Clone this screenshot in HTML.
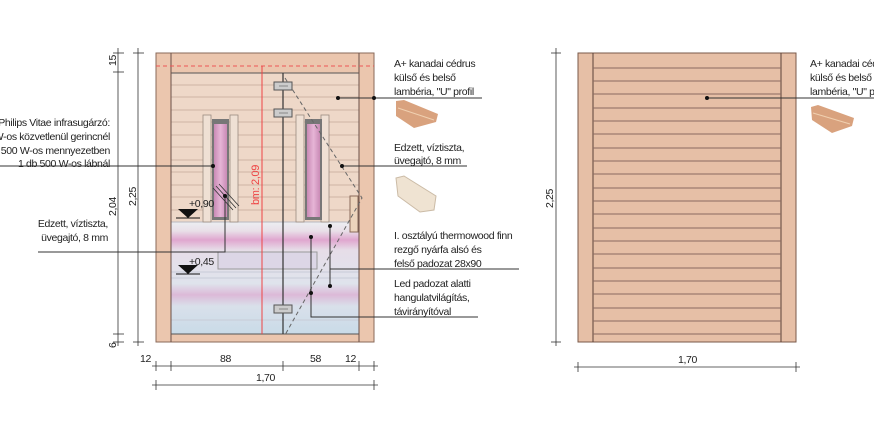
<!DOCTYPE html>
<html><head><meta charset="utf-8"><style>
html,body{margin:0;padding:0;background:#fff;}
svg{display:block;}
text{font-family:"Liberation Sans Narrow","Liberation Sans",sans-serif;font-size:10.5px;letter-spacing:-0.35px;fill:#222;}
</style></head><body>
<svg width="874" height="426" viewBox="0 0 874 426" xmlns="http://www.w3.org/2000/svg">
<defs>
<linearGradient id="heat" x1="0" x2="1"><stop offset="0" stop-color="#c98ab5"/><stop offset="0.5" stop-color="#e6b5d6"/><stop offset="1" stop-color="#c98ab5"/></linearGradient>
<linearGradient id="low" x1="0" y1="0" x2="0" y2="1">
<stop offset="0" stop-color="#eceef2"/><stop offset="0.08" stop-color="#e9dfe8"/><stop offset="0.16" stop-color="#e0a6cf"/><stop offset="0.25" stop-color="#e6dde8"/><stop offset="0.55" stop-color="#dfe3ec"/><stop offset="0.65" stop-color="#dcb9d8"/><stop offset="0.75" stop-color="#d9e0ea"/><stop offset="1" stop-color="#c9dbe8"/></linearGradient>
</defs>
<rect x="156" y="53" width="218" height="289" fill="#ebc6ae" stroke="#8a6a5a" stroke-width="1"/>
<rect x="171" y="73" width="188" height="149" fill="#eed8c8"/>
<g stroke="#cdb4a4" stroke-width="1">
<line x1="171" y1="85" x2="359" y2="85"/><line x1="171" y1="97" x2="359" y2="97"/><line x1="171" y1="110" x2="359" y2="110"/><line x1="171" y1="122" x2="359" y2="122"/><line x1="171" y1="135" x2="359" y2="135"/><line x1="171" y1="147" x2="359" y2="147"/><line x1="171" y1="160" x2="359" y2="160"/><line x1="171" y1="172" x2="359" y2="172"/><line x1="171" y1="185" x2="359" y2="185"/><line x1="171" y1="197" x2="359" y2="197"/><line x1="171" y1="210" x2="359" y2="210"/>
</g>
<rect x="171" y="222" width="188" height="112" fill="url(#low)"/>
<g stroke="#c8ccd8" stroke-width="1"><line x1="171" y1="272" x2="359" y2="272"/><line x1="171" y1="278" x2="359" y2="278"/><line x1="171" y1="320" x2="359" y2="320"/></g>
<line x1="171" y1="222" x2="359" y2="222" stroke="#b8b8c0"/>
<rect x="171" y="73" width="188" height="261" fill="none" stroke="#555" stroke-width="1"/>
<line x1="171" y1="53" x2="171" y2="342" stroke="#6a5048"/><line x1="359" y1="53" x2="359" y2="342" stroke="#6a5048"/>
<line x1="156" y1="66" x2="374" y2="66" stroke="#e55" stroke-dasharray="4,3"/>
<g fill="#efe0d4" stroke="#9a8a80" stroke-width="0.8">
<rect x="203" y="115" width="8" height="107"/><rect x="230" y="115" width="8" height="107"/>
<rect x="296" y="115" width="8" height="107"/><rect x="321" y="115" width="8" height="107"/>
</g>
<rect x="212" y="119" width="17" height="101" fill="#777"/><rect x="214" y="124" width="13" height="93" fill="url(#heat)"/>
<rect x="305" y="119" width="17" height="101" fill="#777"/><rect x="307" y="124" width="13" height="93" fill="url(#heat)"/>
<rect x="218" y="252" width="99" height="17" fill="#dcd6e6" stroke="#999" stroke-width="1"/>
<rect x="350" y="196" width="8" height="36" fill="#ecd4bc" stroke="#8a6a5a"/>
<line x1="262" y1="66" x2="262" y2="334" stroke="#e44" stroke-width="1"/>
<line x1="283" y1="73" x2="283" y2="334" stroke="#333" stroke-width="1.2"/>
<polyline points="285,78 362,198 285,335" fill="none" stroke="#666" stroke-dasharray="4,3"/>
<g fill="#ccc" stroke="#555"><rect x="274" y="82" width="18" height="8"/><rect x="274" y="109" width="18" height="8"/><rect x="274" y="305" width="18" height="8"/></g>
<g stroke="#888"><line x1="279" y1="86" x2="288" y2="86"/><line x1="279" y1="113" x2="288" y2="113"/><line x1="279" y1="309" x2="288" y2="309"/></g>
<text transform="translate(259,205) rotate(-90)" style="fill:#e44;font-size:11px">bm: 2,09</text>
<g stroke="#333" stroke-width="0.8"><line x1="213" y1="188" x2="233" y2="210"/><line x1="216" y1="186" x2="236" y2="208"/><line x1="219" y1="184" x2="239" y2="206"/></g>
<polygon points="178,209 198,209 188,218" fill="#111"/><line x1="176" y1="218" x2="200" y2="218" stroke="#111"/>
<polygon points="178,265 198,265 188,274" fill="#111"/><line x1="176" y1="274" x2="200" y2="274" stroke="#111"/>
<text x="189" y="207">+0,90</text><text x="189" y="265">+0,45</text>
<g stroke="#333" stroke-width="1" fill="none">
<line x1="0" y1="166" x2="213" y2="166"/>
<polyline points="38,252 225,252 225,196"/>
<line x1="338" y1="98" x2="482" y2="98"/>
<line x1="342" y1="166" x2="467" y2="166"/>
<line x1="330" y1="226" x2="330" y2="286"/><line x1="330" y1="269" x2="519" y2="269"/>
<polyline points="311,237 311,317 478,317"/>
</g>
<g fill="#111"><circle cx="213" cy="166" r="2"/><circle cx="225" cy="196" r="2"/><circle cx="338" cy="98" r="2"/><circle cx="374" cy="98" r="2"/><circle cx="342" cy="166" r="2"/><circle cx="330" cy="226" r="2"/><circle cx="330" cy="286" r="2"/><circle cx="311" cy="237" r="2"/><circle cx="311" cy="293" r="2"/></g>
<g text-anchor="end">
<text x="110" y="126">Philips Vitae infrasugárzó:</text>
<text x="110" y="140">1 db 500 W-os közvetlenül gerincnél</text>
<text x="110" y="154">1 db 500 W-os mennyezetben</text>
<text x="110" y="167">1 db 500 W-os lábnál</text>
<text x="108" y="227">Edzett, víztiszta,</text>
<text x="108" y="241">üvegajtó, 8 mm</text>
</g>
<text x="394" y="67">A+ kanadai cédrus</text><text x="394" y="81">külső és belső</text><text x="394" y="95">lambéria, "U" profil</text>
<text x="394" y="151">Edzett, víztiszta,</text><text x="394" y="164">üvegajtó, 8 mm</text>
<text x="394" y="239">I. osztályú thermowood finn</text><text x="394" y="253">rezgő nyárfa alsó és</text><text x="394" y="267">felső padozat 28x90</text>
<text x="394" y="287">Led padozat alatti</text><text x="394" y="301">hangulatvilágítás,</text><text x="394" y="315">távirányítóval</text>
<polygon points="396,101 404,100 438,114 436,122 414,128 396,116" fill="#d9a27e"/><line x1="398" y1="108" x2="434" y2="120" stroke="#f0d0b0"/>
<polygon points="396,178 404,176 436,196 434,210 420,212 398,196" fill="#efe3d2" stroke="#cbbba6"/>
<polygon points="811,107 818,105 854,118 852,126 832,133 812,120" fill="#d9a27e"/><line x1="813" y1="113" x2="850" y2="124" stroke="#f0d0b0"/>
<g stroke="#333" stroke-width="0.8">
<line x1="118" y1="48" x2="118" y2="346"/><line x1="138" y1="48" x2="138" y2="346"/>
<line x1="113" y1="53" x2="124" y2="53"/><line x1="113" y1="72" x2="124" y2="72"/><line x1="113" y1="334" x2="124" y2="334"/><line x1="113" y1="342" x2="124" y2="342"/>
<line x1="133" y1="53" x2="144" y2="53"/><line x1="133" y1="342" x2="144" y2="342"/>
<line x1="152" y1="366" x2="378" y2="366"/><line x1="152" y1="385" x2="378" y2="385"/>
<line x1="156" y1="361" x2="156" y2="371"/><line x1="171" y1="361" x2="171" y2="371"/><line x1="283" y1="361" x2="283" y2="371"/><line x1="359" y1="361" x2="359" y2="371"/><line x1="374" y1="361" x2="374" y2="371"/>
<line x1="156" y1="380" x2="156" y2="390"/><line x1="374" y1="380" x2="374" y2="390"/>
</g>
<text transform="translate(116,66) rotate(-90)">15</text>
<text transform="translate(116,348) rotate(-90)">6</text>
<text transform="translate(116,216) rotate(-90)">2,04</text>
<text transform="translate(136,206) rotate(-90)">2,25</text>
<text x="140" y="362">12</text><text x="220" y="362">88</text><text x="310" y="362">58</text><text x="345" y="362">12</text><text x="256" y="381">1,70</text>
<rect x="578" y="53" width="218" height="289" fill="#e6bfa6" stroke="#7a5a4a"/>
<line x1="593" y1="53" x2="593" y2="342" stroke="#5a4038"/><line x1="781" y1="53" x2="781" y2="342" stroke="#5a4038"/>
<g stroke="#8a6a60" stroke-width="1">
<line x1="593" y1="68" x2="781" y2="68"/><line x1="593" y1="81" x2="781" y2="81"/><line x1="593" y1="94" x2="781" y2="94"/><line x1="593" y1="108" x2="781" y2="108"/><line x1="593" y1="121" x2="781" y2="121"/><line x1="593" y1="134" x2="781" y2="134"/><line x1="593" y1="148" x2="781" y2="148"/><line x1="593" y1="161" x2="781" y2="161"/><line x1="593" y1="174" x2="781" y2="174"/><line x1="593" y1="188" x2="781" y2="188"/><line x1="593" y1="201" x2="781" y2="201"/><line x1="593" y1="214" x2="781" y2="214"/><line x1="593" y1="228" x2="781" y2="228"/><line x1="593" y1="241" x2="781" y2="241"/><line x1="593" y1="254" x2="781" y2="254"/><line x1="593" y1="268" x2="781" y2="268"/><line x1="593" y1="281" x2="781" y2="281"/><line x1="593" y1="294" x2="781" y2="294"/><line x1="593" y1="308" x2="781" y2="308"/><line x1="593" y1="321" x2="781" y2="321"/><line x1="593" y1="334" x2="781" y2="334"/>
</g>
<line x1="707" y1="98" x2="874" y2="98" stroke="#333"/><circle cx="707" cy="98" r="2" fill="#111"/>
<text x="810" y="67">A+ kanadai cédrus</text><text x="810" y="81">külső és belső</text><text x="810" y="95">lambéria, "U" profil</text>
<g stroke="#333" stroke-width="0.8">
<line x1="556" y1="48" x2="556" y2="346"/><line x1="551" y1="53" x2="561" y2="53"/><line x1="551" y1="342" x2="561" y2="342"/>
<line x1="574" y1="367" x2="800" y2="367"/><line x1="578" y1="362" x2="578" y2="372"/><line x1="796" y1="362" x2="796" y2="372"/>
</g>
<text transform="translate(553,208) rotate(-90)">2,25</text>
<text x="678" y="363">1,70</text>
</svg>
</body></html>
